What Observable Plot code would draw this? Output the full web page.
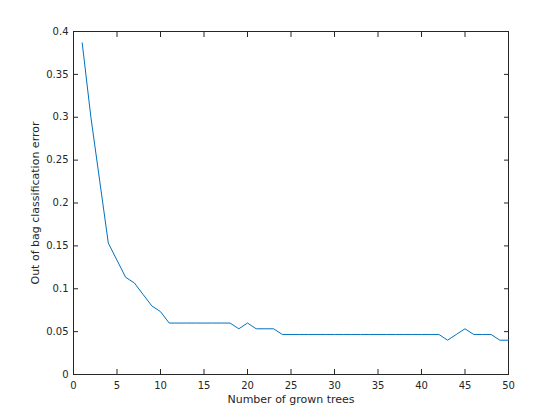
<!DOCTYPE html>
<html>
<head>
<meta charset="utf-8">
<script src="https://cdn.jsdelivr.net/npm/d3@7"></script>
<script src="https://cdn.jsdelivr.net/npm/@observablehq/plot@0.6"></script>
<style>
  html, body { margin: 0; padding: 0; background: #ffffff; }
  #chart svg { display: block; }
</style>
</head>
<body>
<div id="chart"></div>
<script>
const trees = d3.range(1, 51);
const oobError = [
  0.3867, 0.3000, 0.2267, 0.1533, 0.1333, 0.1133, 0.1067, 0.0933, 0.0800, 0.0733,
  0.0600, 0.0600, 0.0600, 0.0600, 0.0600, 0.0600, 0.0600, 0.0600, 0.0533, 0.0600,
  0.0533, 0.0533, 0.0533, 0.0467, 0.0467, 0.0467, 0.0467, 0.0467, 0.0467, 0.0467,
  0.0467, 0.0467, 0.0467, 0.0467, 0.0467, 0.0467, 0.0467, 0.0467, 0.0467, 0.0467,
  0.0467, 0.0467, 0.0400, 0.0467, 0.0533, 0.0467, 0.0467, 0.0467, 0.0400, 0.0400
];
const xTicks = [0, 5, 10, 15, 20, 25, 30, 35, 40, 45, 50];
const yTicks = [0, 0.05, 0.1, 0.15, 0.2, 0.25, 0.3, 0.35, 0.4];
const xLabel = "Number of grown trees";
const yLabel = "Out of bag classification error";

const data = trees.map((t, i) => ({ trees: t, error: oobError[i] }));
const axisColor = "#262626";
const fmtY = d => String(+d.toFixed(2));
const blank = () => "";

const chart = Plot.plot({
  width: 560,
  height: 420,
  marginLeft: 73,
  marginRight: 52,
  marginTop: 31,
  marginBottom: 46,
  style: { fontFamily: "DejaVu Sans", fontSize: "10px", color: axisColor, background: "#ffffff" },
  x: { domain: [0, 50] },
  y: { domain: [0, 0.4] },
  marks: [
    Plot.frame({ stroke: axisColor, strokeWidth: 1 }),
    Plot.line(data, { x: "trees", y: "error", stroke: "#0072BD", strokeWidth: 1 }),
    Plot.axisX({ anchor: "bottom", ticks: xTicks, tickSize: -5, tickPadding: 12, stroke: axisColor, fill: axisColor,
      label: null }),
    Plot.axisX({ anchor: "bottom", ticks: [], label: xLabel, labelAnchor: "center", labelArrow: "none",
      labelOffset: 28, fontSize: 11, fill: axisColor }),
    Plot.axisX({ anchor: "top", ticks: xTicks, tickSize: -5, tickFormat: blank, label: null, stroke: axisColor }),
    Plot.axisY({ anchor: "left", ticks: yTicks, tickFormat: fmtY, tickSize: -5, tickPadding: 10, stroke: axisColor, fill: axisColor,
      label: null }),
    Plot.axisY({ anchor: "left", ticks: [], label: yLabel, labelAnchor: "center", labelArrow: "none",
      labelOffset: 42, fontSize: 11, fill: axisColor }),
    Plot.axisY({ anchor: "right", ticks: yTicks, tickSize: -5, tickFormat: blank, label: null, stroke: axisColor })
  ]
});
document.getElementById("chart").appendChild(chart);
</script>
</body>
</html>
